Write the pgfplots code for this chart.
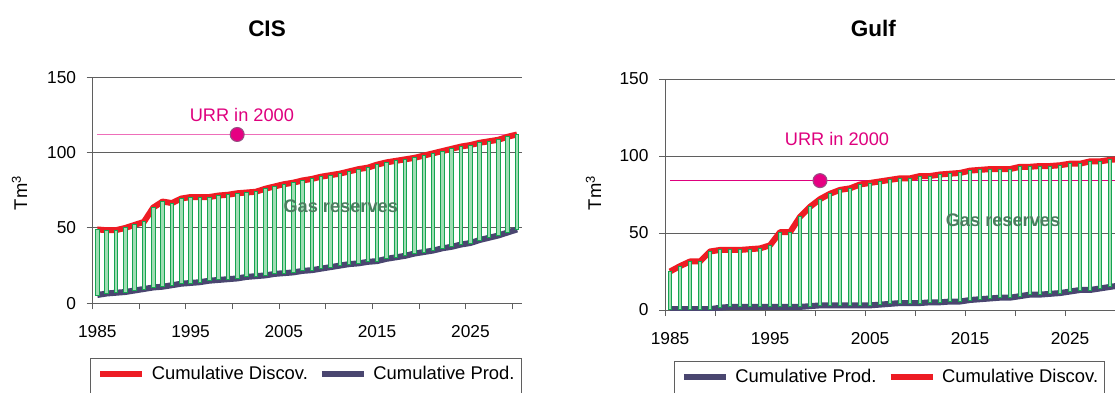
\documentclass[border=0pt]{standalone}
\usepackage{fontspec}
\setmainfont{Liberation Sans}
\usepackage{pgfplots}
\pgfplotsset{compat=1.18}
\usepackage{pgfplotstable}
\definecolor{discred}{RGB}{237,28,36}
\definecolor{prodnavy}{RGB}{74,70,112}
\definecolor{barfill}{RGB}{160,220,180}
\definecolor{bardraw}{RGB}{20,165,80}
\definecolor{urrpink}{RGB}{238,110,185}
\definecolor{urrmag}{RGB}{222,0,125}
\definecolor{dotfill}{RGB}{230,0,130}
\definecolor{dotdraw}{RGB}{150,80,130}
\definecolor{gastext}{RGB}{75,125,95}
\definecolor{axgray}{RGB}{95,95,95}

\pgfplotstableread{
year d p
1985 49 5.5
1986 48.5 6.5
1987 48.5 7
1988 50 7.5
1989 52 8.5
1990 54 9.5
1991 63.5 10.5
1992 67.5 11
1993 66.5 12
1994 69.5 13
1995 70.5 13.5
1996 70.5 14
1997 70.5 15
1998 71.5 15.5
1999 72 16
2000 73 16.5
2001 73.5 17.5
2002 74 18
2003 76 18.5
2004 77.5 19.5
2005 79 20
2006 80 20.5
2007 81.5 21.5
2008 82.5 22
2009 84 23
2010 85 24
2011 86 25
2012 87.5 26
2013 89 26.5
2014 90 27.5
2015 92 28
2016 93.5 29.5
2017 94.5 30.5
2018 95.5 31.5
2019 96.5 33
2020 98 34
2021 99.5 35
2022 101 36.5
2023 102.5 37.5
2024 104 39
2025 105 40
2026 106.5 42
2027 107.5 43.5
2028 108.5 45
2029 110.5 47
2030 112 49
}\cis

\pgfplotstableread{
year d p
1985 25 0.5
1986 28.5 0.5
1987 31.5 0.5
1988 31.5 0.5
1989 38 0.5
1990 39 1.5
1991 39 2
1992 39 2
1993 39.5 2
1994 40 2
1995 42 2
1996 50.5 2
1997 50.5 2
1998 60.5 2
1999 67 2.5
2000 72 3
2001 75.5 3
2002 78 3
2003 79 3
2004 81.5 3
2005 82.5 3
2006 83.5 3.5
2007 84.5 4
2008 85.5 4.5
2009 85.5 4.5
2010 87 4.5
2011 87 5
2012 88 5
2013 88.5 5.5
2014 89 5.5
2015 90.5 6.5
2016 91 7
2017 91.5 7.5
2018 91.5 8
2019 91.5 8
2020 93 9
2021 93 10
2022 93.5 10
2023 93.5 10.5
2024 94 11
2025 95 12
2026 95 13
2027 96.5 13
2028 96.5 14
2029 97.5 15
2030 98 16
}\gulf

\pgfplotsset{
  panel/.style={
    scale only axis, anchor=south west,
    xmin=1984.5, xmax=2030.5, ymin=0, ymax=150,
  },
  frame/.style={
    panel,
    axis x line=bottom, axis y line=left,
    axis line style={-, draw=axgray, line width=1pt},
    tick style={draw=axgray, line width=1pt},
    major tick length=6pt, tick align=outside,
    xtick={1984.5,1989.5,1994.5,1999.5,2004.5,2009.5,2014.5,2019.5,2024.5,2029.5},
    xticklabels={},
    extra x ticks={1985,1995,2005,2015,2025},
    extra x tick labels={1985,1995,2005,2015,2025},
    extra x tick style={major tick length=0pt, grid=none,
      xticklabel style={yshift=-19pt}},
    ytick={0,50,100,150},
    yticklabel style={xshift=-7pt},
    ymajorgrids,
    major grid style={draw=axgray, line width=1pt},
    tick label style={font=\fontsize{17.3}{20}\selectfont},
    /pgf/number format/assume math mode=true,
    legend columns=2,
    legend image code/.code={\draw[##1] (0pt,0pt) -- (42pt,0pt);},
    legend style={draw=axgray, line width=0.8pt, anchor=north west,
      font=\fontsize{18.4}{21}\selectfont,
      inner xsep=6.5pt, inner ysep=6pt,
      nodes={inner xsep=0pt, inner ysep=2pt},
      /tikz/every odd column/.append style={column sep=6.5pt},
      /tikz/every even column/.append style={column sep=11pt}},
  },
  bars/.style={
    panel, hide axis, ybar stacked, bar width=3.6pt,
  },
}

\begin{document}
\begin{tikzpicture}[x=1pt,y=1pt]
\path[use as bounding box] (0,0) rectangle (1115,392);
\clip (0,0) rectangle (1115,392);

\node[font=\fontsize{22.5}{27}\selectfont\bfseries] at (267,363.7) {CIS};
\node[font=\fontsize{22.5}{27}\selectfont\bfseries] at (873.3,363.7) {Gulf};
\node[rotate=90, font=\fontsize{18.4}{21}\selectfont] at (19.6,199) {Tm\textsuperscript{3}};
\node[rotate=90, font=\fontsize{18.4}{21}\selectfont] at (593.6,199) {Tm\textsuperscript{3}};

% ---------- CIS ----------
\begin{axis}[frame, at={(92.6pt,88.7pt)}, width=429.1pt, height=226.1pt,
  legend style={at={(-0.005,-0.243)}}]
\addplot[urrpink, line width=1.2pt, forget plot] coordinates {(1985,112) (2030,112)};
\addplot[discred, line width=6pt, line join=round] table[x=year,y=d] {\cis};
\addlegendentry{Cumulative Discov.}
\addplot[prodnavy, line width=6pt, line join=round] table[x=year,y=p] {\cis};
\addlegendentry{Cumulative Prod.}
\addlegendimage{empty legend}\addlegendentry{\strut}
\addlegendimage{empty legend}\addlegendentry{\strut}
\addplot[only marks, mark=*, mark size=7pt, forget plot, mark options={fill=dotfill, draw=dotdraw, line width=1pt}] coordinates {(2000,112)};
\node[text=urrmag, font=\fontsize{18.2}{21}\selectfont] at (axis cs:2000.5,125) {URR in 2000};
\end{axis}
\begin{axis}[bars, at={(92.6pt,88.7pt)}, width=429.1pt, height=226.1pt]
\addplot[draw=none, fill=none] table[x=year,y=p] {\cis};
\addplot[fill=barfill, draw=bardraw, line width=0.9pt] table[x=year,y expr=\thisrow{d}-\thisrow{p}] {\cis};
\coordinate (gasL) at (axis cs:2011.1,64.1);
\end{axis}
\node[text=gastext, font=\fontsize{18.2}{21}\selectfont\bfseries] at (gasL) {Gas reserves};

% ---------- Gulf ----------
\begin{axis}[frame, at={(665pt,82pt)}, width=460pt, height=231pt,
  legend style={at={(0.0196,-0.2195)}}]
\addplot[urrmag, line width=1pt, forget plot] coordinates {(1985,84) (2030,84)};
\addplot[prodnavy, line width=6pt, line join=round] table[x=year,y=p] {\gulf};
\addlegendentry{Cumulative Prod.}
\addplot[discred, line width=6pt, line join=round] table[x=year,y=d] {\gulf};
\addlegendentry{Cumulative Discov.}
\addlegendimage{empty legend}\addlegendentry{\strut}
\addlegendimage{empty legend}\addlegendentry{\strut}
\addplot[only marks, mark=*, mark size=7pt, forget plot, mark options={fill=dotfill, draw=dotdraw, line width=1pt}] coordinates {(2000,84)};
\node[text=urrmag, font=\fontsize{18.2}{21}\selectfont] at (axis cs:2001.7,110.8) {URR in 2000};
\end{axis}
\begin{axis}[bars, at={(665pt,82pt)}, width=460pt, height=231pt]
\addplot[draw=none, fill=none] table[x=year,y=p] {\gulf};
\addplot[fill=barfill, draw=bardraw, line width=0.9pt] table[x=year,y expr=\thisrow{d}-\thisrow{p}] {\gulf};
\coordinate (gasR) at (axis cs:2018.3,58);
\end{axis}
\node[text=gastext, font=\fontsize{18.2}{21}\selectfont\bfseries] at (gasR) {Gas reserves};
\end{tikzpicture}
\end{document}
